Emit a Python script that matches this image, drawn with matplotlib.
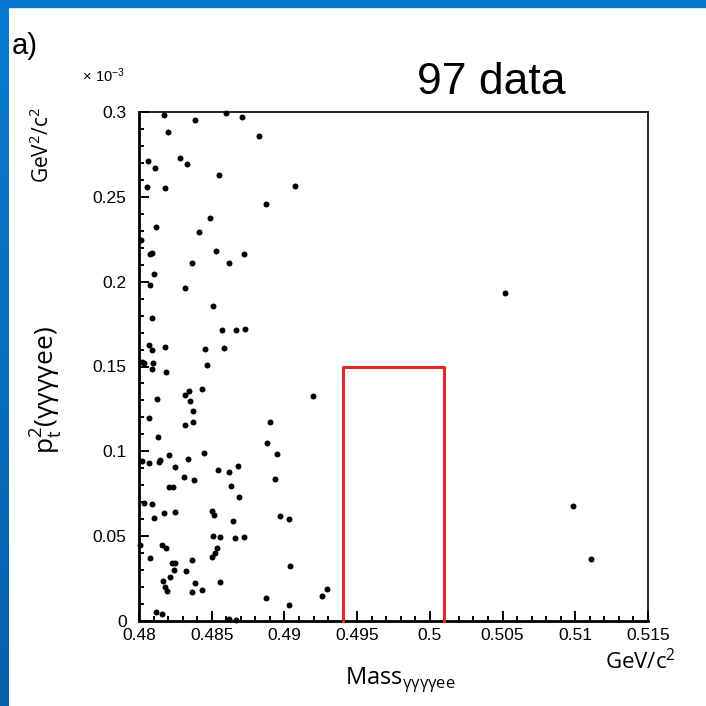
import numpy as np
import matplotlib
matplotlib.use("Agg")
import matplotlib.pyplot as plt
from matplotlib.patches import Rectangle
from matplotlib.colors import LinearSegmentedColormap

# candidate events: mass (GeV/c^2) and pt^2 (units of 1e-3 GeV^2/c^2)
mass = [0.48172, 0.48385, 0.48598, 0.48708, 0.48199, 0.48062, 0.48110, 0.48282,
        0.48330, 0.48550, 0.48055, 0.48179, 0.48488, 0.48117, 0.48413, 0.48089,
        0.48076, 0.48530, 0.48722, 0.48365, 0.48619, 0.48103, 0.48014, 0.48825,
        0.49073, 0.48873, 0.48076, 0.48316, 0.48509, 0.48089, 0.48571, 0.48667,
        0.48729, 0.48069, 0.48089, 0.48179, 0.48454, 0.48585, 0.48021, 0.48034,
        0.48096, 0.48089, 0.48186, 0.48468, 0.48433, 0.48344, 0.48316, 0.48351,
        0.48124, 0.48371, 0.48069, 0.48371, 0.48316, 0.48131, 0.48206, 0.48447,
        0.49197, 0.48901, 0.48880, 0.48949, 0.48021, 0.48069, 0.48138, 0.48144,
        0.48337, 0.48248, 0.48310, 0.48378, 0.48543, 0.48619, 0.48681, 0.48206,
        0.48234, 0.48633, 0.48688, 0.48034, 0.48089, 0.48103, 0.48172, 0.48248,
        0.48502, 0.48516, 0.48647, 0.48509, 0.48557, 0.48660, 0.48722, 0.48007,
        0.48158, 0.48186, 0.48076, 0.48536, 0.48523, 0.48502, 0.48227, 0.48248,
        0.48241, 0.48365, 0.48323, 0.48213, 0.48165, 0.48179, 0.48193, 0.48385,
        0.48365, 0.48433, 0.48557, 0.48117, 0.48158, 0.48935, 0.48970, 0.49032,
        0.49039, 0.48873, 0.49032, 0.49259, 0.49293, 0.50517, 0.50985, 0.51109,
        0.48619, 0.48667]
pt2 = [0.2982, 0.2953, 0.2994, 0.2971, 0.2882, 0.2711, 0.2670, 0.2729,
       0.2694, 0.2629, 0.2558, 0.2552, 0.2375, 0.2322, 0.2293, 0.2169,
       0.2163, 0.2181, 0.2163, 0.2110, 0.2110, 0.2045, 0.2246, 0.2859,
       0.2564, 0.2458, 0.1980, 0.1963, 0.1857, 0.1786, 0.1715, 0.1715,
       0.1721, 0.1627, 0.1597, 0.1615, 0.1603, 0.1609, 0.1527, 0.1521,
       0.1521, 0.1485, 0.1468, 0.1509, 0.1367, 0.1356, 0.1332, 0.1297,
       0.1308, 0.1238, 0.1196, 0.1173, 0.1155, 0.1085, 0.0978, 0.0990,
       0.1326, 0.1173, 0.1049, 0.0984, 0.0943, 0.0931, 0.0937, 0.0949,
       0.0955, 0.0908, 0.0849, 0.0831, 0.0890, 0.0878, 0.0914, 0.0790,
       0.0790, 0.0796, 0.0731, 0.0695, 0.0690, 0.0607, 0.0637, 0.0642,
       0.0648, 0.0625, 0.0589, 0.0501, 0.0495, 0.0489, 0.0495, 0.0448,
       0.0448, 0.0430, 0.0371, 0.0430, 0.0401, 0.0377, 0.0342, 0.0342,
       0.0301, 0.0360, 0.0295, 0.0259, 0.0236, 0.0200, 0.0177, 0.0224,
       0.0171, 0.0183, 0.0230, 0.0053, 0.0041, 0.0837, 0.0619, 0.0601,
       0.0324, 0.0136, 0.0094, 0.0147, 0.0189, 0.1933, 0.0678, 0.0365,
       0.0012, 0.0006]

# signal window
box_mass = [0.494, 0.501]
box_pt2 = 0.15

x_ticks = [0.48, 0.485, 0.49, 0.495, 0.5, 0.505, 0.51, 0.515]
x_labels = ["0.48", "0.485", "0.49", "0.495", "0.5", "0.505", "0.51", "0.515"]
y_ticks = [0, 0.05, 0.1, 0.15, 0.2, 0.25, 0.3]
y_labels = ["0", "0.05", "0.1", "0.15", "0.2", "0.25", "0.3"]

plt.rcParams['font.family'] = ['Liberation Sans', 'DejaVu Sans']
plt.rcParams['mathtext.fontset'] = 'custom'
plt.rcParams['mathtext.rm'] = 'Open Sans'

fig = plt.figure(figsize=(7.06, 7.06), dpi=100)
fig.patch.set_facecolor('white')

# blue slide frame
fig.patches.append(Rectangle((0, 1 - 7 / 706), 1, 7 / 706, transform=fig.transFigure,
                             color='#0679CE', zorder=0))
bax = fig.add_axes([0, 0, 9 / 706, 1])
cmap = LinearSegmentedColormap.from_list('edge', ['#0A7BD2', '#0661AC'])
bax.imshow(np.linspace(0, 1, 256).reshape(-1, 1), aspect='auto', cmap=cmap)
bax.axis('off')

ax = fig.add_axes([139 / 706, 1 - 621 / 706, 509 / 706, 509 / 706])
ax.plot(mass, pt2, 'o', color='black', ms=4.3, mec='none', clip_on=False, zorder=3)
ax.plot([box_mass[0], box_mass[0], box_mass[1], box_mass[1]], [0, box_pt2, box_pt2, 0],
        color='#E8252B', lw=2.2, zorder=4, clip_on=False)

ax.set_xlim(0.48, 0.515)
ax.set_ylim(0, 0.3)
ax.set_xticks(x_ticks, x_labels)
ax.set_yticks(y_ticks, y_labels)
ax.set_xticks(np.arange(0.48, 0.5151, 0.001), minor=True)
ax.set_yticks(np.arange(0, 0.301, 0.01), minor=True)
ax.tick_params(which='both', direction='in', top=False, right=False, labelsize=12.5,
               colors='black', width=1.4)
ax.tick_params(which='major', length=7)
ax.tick_params(which='minor', length=3.5)
ax.tick_params(axis='x', pad=5)
ax.tick_params(axis='y', pad=9)
for s in ['left', 'bottom']:
    ax.spines[s].set_linewidth(2)
for s in ['top', 'right']:
    ax.spines[s].set_linewidth(1.2)

fig.text(12 / 706, 1 - 46 / 706, "a)", fontsize=21, va='center', ha='left')
fig.text(491 / 706, 1 - 82 / 706, "97 data", fontsize=32, va='center', ha='center')
fig.text(82 / 706, 1 - 76 / 706, r"$\mathregular{\times\ 10^{-3}}$", fontsize=10.5,
         va='center', ha='left', family='Liberation Sans')
fig.text(42 / 706, 1 - 145 / 706, r"GeV$^2$/c$^2$", fontsize=15, rotation=90,
         va='center', ha='center', family='Open Sans')
fig.text(46 / 706, 1 - 390 / 706, r"$\mathrm{p}_{\mathrm{t}}^{2}$(γγγγee)", fontsize=19,
         rotation=90, va='center', ha='center', family='Open Sans')
fig.text(400 / 706, 1 - 680 / 706, r"Mass$_{\mathrm{γγγγee}}$", fontsize=17,
         va='center', ha='center', family='Open Sans')
fig.text(640 / 706, 1 - 662 / 706, r"GeV/c$^2$", fontsize=16, va='center', ha='center',
         family='Open Sans')

fig.savefig("out.png", dpi=100)
